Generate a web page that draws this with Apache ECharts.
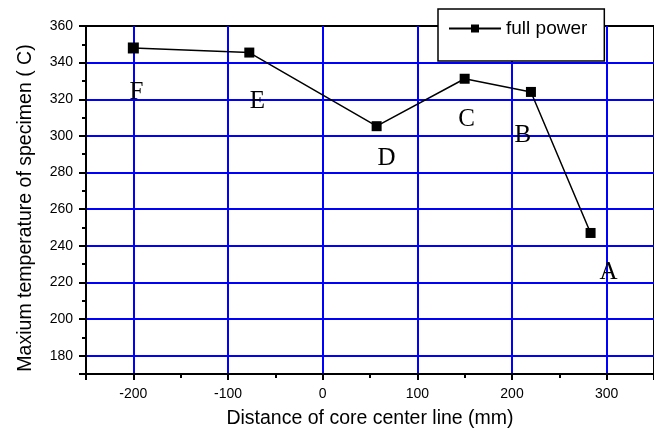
<!DOCTYPE html>
<html>
<head>
<meta charset="utf-8">
<script src="https://cdn.jsdelivr.net/npm/echarts@6/dist/echarts.min.js"></script>
<style>
  html, body { margin: 0; padding: 0; background: #fff; }
  #chart { width: 654px; height: 435px; }
</style>
</head>
<body>
<div id="chart"></div>
<script>
// Measurement positions along the core (mm from the center line)
const distance = [-200, -77.5, 57, 150, 220, 283];
// Peak specimen temperature at each position
const temperature = [348, 345.5, 305.3, 331.2, 324, 247];
// Position names printed beside each point
const pointNames = ['F', 'E', 'D', 'C', 'B', 'A'];
const seriesName = 'full power';

// Where each point name sits relative to its marker (px)
const nameOffsets = [[3, 44], [8, 49], [10, 32], [2, 41], [-8, 44], [18, 39]];
const markerSizes = [11, 10, 10, 10, 10, 10];

const sans = 'Liberation Sans, Arial, sans-serif';
const serif = 'Liberation Serif, Times New Roman, serif';

const points = distance.map((x, i) => ({
  value: [x, temperature[i]],
  name: pointNames[i],
  symbolSize: markerSizes[i],
  label: { offset: nameOffsets[i] }
}));

const chart = echarts.init(document.getElementById('chart'), null, { renderer: 'canvas' });
chart.setOption({
  animation: false,
  backgroundColor: '#fff',
  grid: {
    left: 86, right: -2, top: 26, bottom: 61,
    show: true, borderColor: '#000', borderWidth: 2, backgroundColor: 'transparent'
  },
  legend: {
    left: 438, top: 9,
    padding: [10, 17, 23, 10],
    backgroundColor: '#fff',
    borderColor: '#000', borderWidth: 1.5, borderRadius: 0,
    itemWidth: 52, itemHeight: 10, itemGap: 5,
    textStyle: { fontFamily: sans, fontSize: 19, color: '#000' },
    data: [seriesName]
  },
  xAxis: {
    type: 'value', min: -250, max: 350,
    name: 'Distance of core center line (mm)',
    nameLocation: 'middle', nameGap: 35,
    nameTextStyle: { fontFamily: sans, fontSize: 19.5, color: '#000' },
    axisLine: { show: true, onZero: false, lineStyle: { color: '#000', width: 2 } },
    axisTick: { show: true, inside: false, length: 6, lineStyle: { color: '#000', width: 2 } },
    minorTick: { show: true, splitNumber: 2, length: 4, lineStyle: { color: '#000', width: 2 } },
    axisLabel: { showMinLabel: false, showMaxLabel: false, margin: 13,
      fontFamily: sans, fontSize: 14, color: '#000' },
    splitLine: { show: true, showMinLine: false, showMaxLine: false,
      lineStyle: { color: '#0000ff', width: 2 } }
  },
  yAxis: {
    type: 'value', min: 170, max: 360, splitNumber: 10,
    name: 'Maxium temperature of specimen ( C)',
    nameLocation: 'middle', nameGap: 50,
    nameTextStyle: { fontFamily: sans, fontSize: 19.5, color: '#000', padding: [0, 16, 0, 0] },
    axisLine: { show: true, onZero: false, lineStyle: { color: '#000', width: 2 } },
    axisTick: { show: true, inside: false, length: 7, lineStyle: { color: '#000', width: 2 } },
    minorTick: { show: true, splitNumber: 2, length: 4, lineStyle: { color: '#000', width: 2 } },
    axisLabel: { showMinLabel: false, margin: 13,
      fontFamily: sans, fontSize: 14, color: '#000' },
    splitLine: { show: true, showMinLine: false, showMaxLine: false,
      lineStyle: { color: '#0000ff', width: 2 } }
  },
  series: [{
    name: seriesName,
    type: 'line',
    data: points,
    symbol: 'rect',
    symbolSize: 10,
    itemStyle: { color: '#000' },
    lineStyle: { color: '#000', width: 1.5 },
    label: {
      show: true, position: 'inside',
      formatter: p => p.name,
      fontFamily: serif, fontSize: 25, color: '#000'
    },
    z: 5
  }]
});
</script>
</body>
</html>
